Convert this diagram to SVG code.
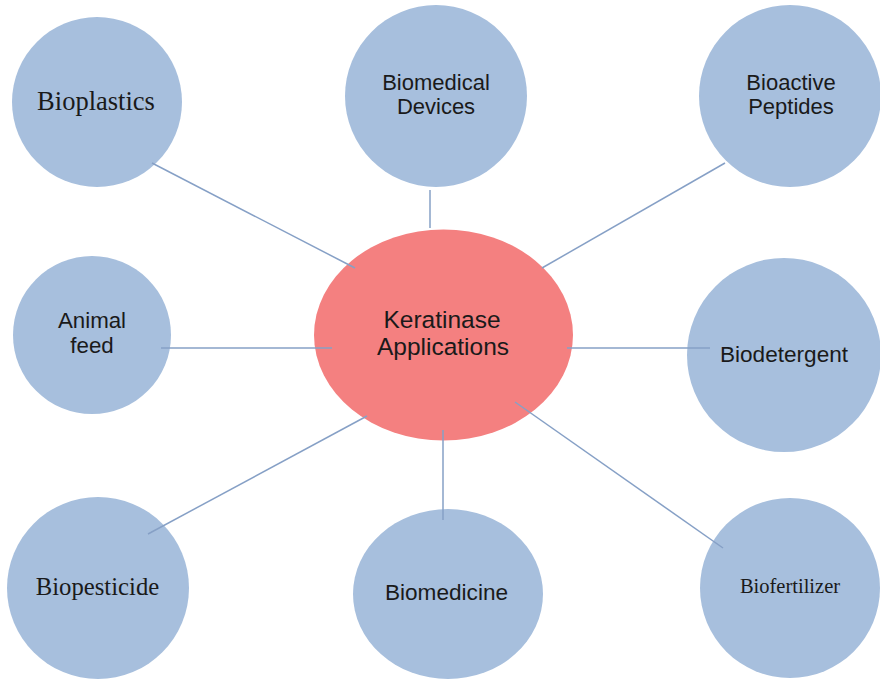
<svg xmlns="http://www.w3.org/2000/svg" width="880" height="681" viewBox="0 0 880 681">
<style>
.leaf{fill:#a7bfdd}
.hub{fill:#f48080}
.sans{font-family:"Liberation Sans",Arial,sans-serif;fill:#1a1a1a;text-anchor:middle}
.serif{font-family:"Liberation Serif","Times New Roman",serif;fill:#1a1a1a;text-anchor:middle}
.con line{stroke:#86a0c6;stroke-width:1.5}
</style>
<rect width="880" height="681" fill="#ffffff"/>
<g id="hub">
<ellipse class="hub" cx="443.5" cy="335" rx="129.5" ry="105.5"/>
<text class="sans" x="442" y="328" font-size="24.5">Keratinase</text>
<text class="sans" x="443" y="355" font-size="24.5">Applications</text>
</g>
<g id="bioplastics">
<circle class="leaf" cx="97" cy="102" r="85"/>
<text class="serif" x="96" y="110" font-size="26.5">Bioplastics</text>
</g>
<g id="biomedical-devices">
<circle class="leaf" cx="436" cy="96" r="91"/>
<text class="sans" x="436" y="90" font-size="22">Biomedical</text>
<text class="sans" x="436" y="114" font-size="22">Devices</text>
</g>
<g id="bioactive-peptides">
<circle class="leaf" cx="790" cy="96" r="91"/>
<text class="sans" x="791" y="90" font-size="22">Bioactive</text>
<text class="sans" x="791" y="114" font-size="22">Peptides</text>
</g>
<g id="animal-feed">
<circle class="leaf" cx="92" cy="335" r="79"/>
<text class="sans" x="92" y="328" font-size="22.3">Animal</text>
<text class="sans" x="92" y="353" font-size="22.3">feed</text>
</g>
<g id="biodetergent">
<circle class="leaf" cx="784" cy="355" r="97"/>
<text class="sans" x="784" y="362" font-size="22.6">Biodetergent</text>
</g>
<g id="biopesticide">
<circle class="leaf" cx="98" cy="588" r="91"/>
<text class="serif" x="97.5" y="595" font-size="24.7">Biopesticide</text>
</g>
<g id="biomedicine">
<ellipse class="leaf" cx="448" cy="594" rx="95" ry="85"/>
<text class="sans" x="446.5" y="600" font-size="22.6">Biomedicine</text>
</g>
<g id="biofertilizer">
<circle class="leaf" cx="790" cy="588" r="90"/>
<text class="serif" x="790" y="593" font-size="20.5">Biofertilizer</text>
</g>
<g id="connectors" class="con">
<line x1="152" y1="163" x2="355" y2="268"/>
<line x1="430" y1="190" x2="430" y2="228"/>
<line x1="725" y1="163" x2="542" y2="268"/>
<line x1="161" y1="348" x2="332" y2="348"/>
<line x1="567" y1="348" x2="710" y2="348"/>
<line x1="148" y1="534" x2="367" y2="416"/>
<line x1="443" y1="430" x2="443" y2="520"/>
<line x1="515" y1="402" x2="723" y2="548"/>
</g>
</svg>
